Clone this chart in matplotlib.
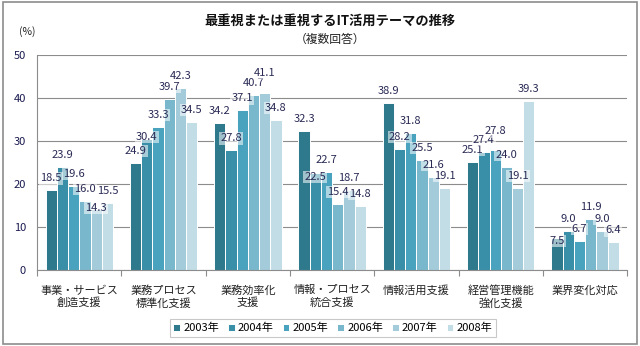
import numpy as np
import matplotlib.pyplot as plt
from matplotlib.patches import Rectangle

plt.rcParams['font.family'] = ['Noto Sans CJK JP', 'DejaVu Sans']

categories = ['事業・サービス\n創造支援', '業務プロセス\n標準化支援', '業務効率化\n支援',
              '情報・プロセス\n統合支援', '情報活用支援', '経営管理機能\n強化支援', '業界変化対応']
years = ['2003年', '2004年', '2005年', '2006年', '2007年', '2008年']
v2003 = [18.5, 24.9, 34.2, 32.3, 38.9, 25.1, 7.5]
v2004 = [23.9, 30.4, 27.8, 22.5, 28.2, 27.4, 9.0]
v2005 = [19.6, 33.3, 37.1, 22.7, 31.8, 27.8, 6.7]
v2006 = [16.0, 39.7, 40.7, 15.4, 25.5, 24.0, 11.9]
v2007 = [14.3, 42.3, 41.1, 18.7, 21.6, 19.1, 9.0]
v2008 = [15.5, 34.5, 34.8, 14.8, 19.1, 39.3, 6.4]
series = [v2003, v2004, v2005, v2006, v2007, v2008]

colors = ['#2e7a8c', '#3a8fa8', '#4aa3be', '#79b8cc', '#a3cbda', '#c2dde6']

# label offsets (px above bar top) where Excel moved them around
default_off = 12
special_off = {(0, 4): 1, (1, 1): 2, (2, 4): 20, (3, 1): -4, (5, 2): 19, (6, 0): -3}

fig = plt.figure(figsize=(6.4, 3.46), dpi=100)
ax = fig.add_axes([0.058, 0.2197, 0.922, 0.6213])

n = len(series)
x = np.arange(len(categories))
w = 0.8 / n
for i, vals in enumerate(series):
    xs = x - 0.4 + w * (i + 0.5)
    ax.bar(xs, vals, width=w, color=colors[i], edgecolor='white', linewidth=0.7,
           label=years[i], zorder=2)
    for j, v in enumerate(vals):
        off = special_off.get((j, i), default_off) * 0.72
        ax.annotate(f'{v:.1f}', (xs[j], v), xytext=(0, off), textcoords='offset points',
                    ha='center', va='center', fontsize=8, color='#2a2a55', zorder=4,
                    bbox=dict(boxstyle='square,pad=0.1', fc='white', ec='none', alpha=0.55))

ax.set_xlim(-0.5, len(categories) - 0.5)
ax.set_ylim(0, 50)
ax.set_yticks(range(0, 51, 10))
ax.yaxis.grid(True, color='#8c8c8c', linewidth=0.8, zorder=0)
ax.set_axisbelow(True)
ax.tick_params(axis='y', length=0, labelsize=8, labelcolor='#1a1a50', pad=8)
ax.set_xticks(np.arange(len(categories) + 1) - 0.5)
ax.set_xticklabels([])
ax.tick_params(axis='x', length=4, color='#8c8c8c', direction='out')
for j, c in enumerate(categories):
    ax.text(j, -3.6, c, ha='center', va='top', fontsize=8, color='#222222',
            linespacing=1.2)
for s in ['top', 'right']:
    ax.spines[s].set_visible(False)
ax.spines['left'].set_color('#8c8c8c')
ax.spines['bottom'].set_color('#8c8c8c')

fig.text(0.515, 0.94, '最重視または重視するIT活用テーマの推移', ha='center', va='center',
         fontsize=9.5, fontweight='bold', color='#111111')
fig.text(0.515, 0.885, '（複数回答）', ha='center', va='center', fontsize=8.5, color='#222222')
fig.text(0.03, 0.91, '(%)', ha='left', va='center', fontsize=7.5, color='#222222')

leg = fig.legend(loc='center', bbox_to_anchor=(0.52, 0.052), ncol=6, fontsize=8,
                 frameon=True, fancybox=False, edgecolor='#bbbbbb', handlelength=0.6,
                 handleheight=0.6, handletextpad=0.3, columnspacing=0.8,
                 borderpad=0.3)
leg.get_frame().set_linewidth(0.8)

fig.patches.append(Rectangle((0.004, 0.006), 0.992, 0.988, transform=fig.transFigure,
                             fill=False, edgecolor='#8c8c8c', linewidth=1.2))

fig.savefig('out.png', dpi=100)
